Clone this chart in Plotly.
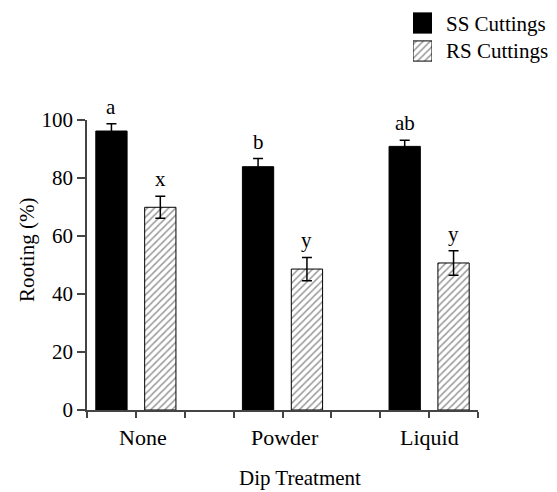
import plotly.graph_objects as go

categories = ["None", "Powder", "Liquid"]
series_names = ["SS Cuttings", "RS Cuttings"]
ss_values = [96.2, 83.9, 90.9]
ss_errors = [2.5, 2.8, 2.1]
rs_values = [69.9, 48.6, 50.7]
rs_errors = [3.8, 4.0, 4.2]
ss_letters = ["a", "b", "ab"]
rs_letters = ["x", "y", "y"]
y_ticks = [0, 20, 40, 60, 80, 100]

FONT = "Liberation Serif, Times New Roman, Times, serif"
AXC = "#444444"
W, H = 549, 484  # page body has an 8px margin inside the 557x492 window

def px_x(p):
    return p / W

def px_y(p):
    return 1 - p / H

ss_marker = dict(color="black", line=dict(color="black", width=1))
rs_marker = dict(color="white", line=dict(color="black", width=1),
                 pattern=dict(shape="/", fgcolor="#333333", bgcolor="white",
                              size=5, solidity=0.3))

# slot layout: SS bar, RS bar, gap per treatment
ss_x = [3 * i for i in range(len(categories))]
rs_x = [3 * i + 1 for i in range(len(categories))]

fig = go.Figure()
fig.add_trace(go.Bar(
    x=ss_x, y=ss_values, name=series_names[0], width=0.64, marker=ss_marker,
    showlegend=False,
    error_y=dict(type="data", array=ss_errors, visible=True,
                 color="black", thickness=1.5, width=5),
))
fig.add_trace(go.Bar(
    x=rs_x, y=rs_values, name=series_names[1], width=0.64, marker=rs_marker,
    showlegend=False,
    error_y=dict(type="data", array=rs_errors, visible=True,
                 color="black", thickness=1.5, width=5),
))

# legend keys (drawn as bars on a small auxiliary axis to get large hatched swatches)
fig.add_trace(go.Bar(x=[1], y=[1], orientation="h", width=0.72, marker=ss_marker,
                     xaxis="x2", yaxis="y2", showlegend=False, hoverinfo="skip"))
fig.add_trace(go.Bar(x=[1], y=[0], orientation="h", width=0.72, marker=rs_marker,
                     xaxis="x2", yaxis="y2", showlegend=False, hoverinfo="skip"))

annotations = []
for xs, vals, errs, letters in [(ss_x, ss_values, ss_errors, ss_letters),
                                (rs_x, rs_values, rs_errors, rs_letters)]:
    for x, v, e, t in zip(xs, vals, errs, letters):
        annotations.append(dict(x=x, y=v + e, xref="x", yref="y", text=t,
                                showarrow=False, yanchor="bottom", yshift=3,
                                font=dict(family=FONT, size=21, color="black")))

label_x = [0.65, 3.55, 6.5]
for lx, c in zip(label_x, categories):
    annotations.append(dict(x=lx, y=px_y(429), xref="x", yref="paper", text=c,
                            showarrow=False, yanchor="middle",
                            font=dict(family=FONT, size=22, color="black")))

annotations.append(dict(x=px_x(292), y=px_y(470), xref="paper", yref="paper",
                        text="Dip Treatment", showarrow=False, yanchor="middle",
                        font=dict(family=FONT, size=21, color="black")))
annotations.append(dict(x=px_x(19), y=px_y(242), xref="paper", yref="paper",
                        text="Rooting (%)", showarrow=False, textangle=-90,
                        xanchor="center", yanchor="middle",
                        font=dict(family=FONT, size=21, color="black")))
for name, yc in zip(series_names, [15.5, 43.5]):
    annotations.append(dict(x=px_x(436), y=px_y(yc), xref="paper", yref="paper",
                            text=name, showarrow=False, xanchor="left",
                            yanchor="middle",
                            font=dict(family=FONT, size=21, color="black")))

fig.update_layout(
    width=W, height=H,
    margin=dict(l=0, r=0, t=0, b=0, autoexpand=False),
    paper_bgcolor="white", plot_bgcolor="white",
    barmode="overlay",
    font=dict(family=FONT, size=20, color="black"),
    showlegend=False,
    annotations=annotations,
    xaxis=dict(domain=[px_x(79), px_x(470)], anchor="y",
               range=[-0.5, 7.5], tickmode="array",
               tickvals=[i - 0.5 for i in range(9)], showticklabels=False,
               ticks="outside", ticklen=6, tickcolor=AXC, tickwidth=1.5,
               showline=True, linecolor=AXC, linewidth=1.5,
               showgrid=False, zeroline=False, fixedrange=True),
    yaxis=dict(domain=[px_y(402), px_y(112)], anchor="x",
               range=[0, 100], tickmode="array", tickvals=y_ticks,
               ticks="outside", ticklen=8, tickcolor=AXC, tickwidth=1.5,
               showline=True, linecolor=AXC, linewidth=1.5,
               showgrid=False, zeroline=False,
               tickfont=dict(family=FONT, size=21, color="black")),
    xaxis2=dict(domain=[px_x(405), px_x(424)], anchor="y2", range=[0, 1],
                visible=False, fixedrange=True),
    yaxis2=dict(domain=[px_y(57), px_y(1)], anchor="x2", range=[-0.5, 1.5],
                visible=False, fixedrange=True),
)

fig.write_html("out.html")
